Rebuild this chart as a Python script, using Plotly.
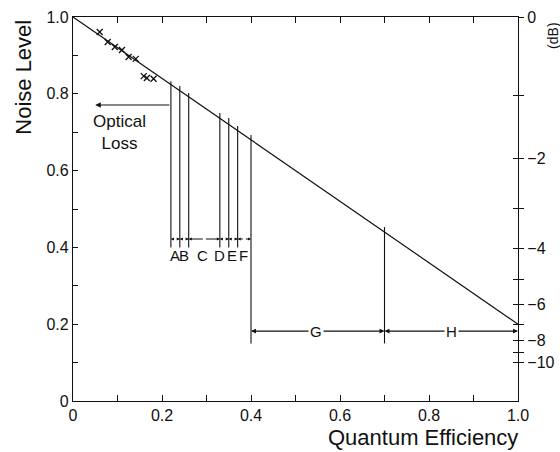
import plotly.graph_objects as go

# ---- data ----
line_eff = [0.0, 1.0]
line_noise = [1.0, 0.2]

cross_eff = [0.060, 0.078, 0.094, 0.110, 0.125, 0.141, 0.159, 0.166, 0.181]
cross_noise = [0.961, 0.935, 0.922, 0.914, 0.896, 0.891, 0.846, 0.841, 0.839]

bound_eff = [0.22, 0.24, 0.26, 0.33, 0.35, 0.37, 0.40, 0.70]
bound_top = [0.833, 0.820, 0.802, 0.750, 0.737, 0.716, 0.693, 0.453]
bound_bottom = [0.40, 0.40, 0.40, 0.40, 0.40, 0.40, 0.15, 0.15]

seg_labels = ["A", "B", "C", "D", "E", "F", "G", "H"]
seg_start = [0.22, 0.24, 0.26, 0.33, 0.35, 0.37, 0.40, 0.70]
seg_end = [0.24, 0.26, 0.33, 0.35, 0.37, 0.40, 0.70, 1.00]
seg_level = [0.422, 0.422, 0.422, 0.422, 0.422, 0.422, 0.182, 0.182]
label_x = [0.229, 0.250, 0.290, 0.329, 0.357, 0.383, 0.545, 0.85]
label_level = [0.378, 0.378, 0.378, 0.378, 0.378, 0.378, 0.182, 0.182]

optical_from = 0.22
optical_to = 0.05
optical_level = 0.771

x_ticks = [0, 0.1, 0.2, 0.3, 0.4, 0.5, 0.6, 0.7, 0.8, 0.9, 1.0]
x_ticktext = ["0", "", "0.2", "", "0.4", "", "0.6", "", "0.8", "", "1.0"]
y_ticks = [0, 0.1, 0.2, 0.3, 0.4, 0.5, 0.6, 0.7, 0.8, 0.9, 1.0]
y_ticktext = ["0", "", "0.2", "", "0.4", "", "0.6", "", "0.8", "", "1.0"]
db_values = [0, -1, -2, -3, -4, -5, -6, -7, -8, -9, -10]
db_labels = ["0", "", "\u22122", "", "\u22124", "", "\u22126", "", "\u22128", "", "\u221210"]

FONT = "Liberation Sans, Arial, Helvetica, sans-serif"
BLACK = "#111111"

fig = go.Figure()

# main line
fig.add_trace(go.Scatter(x=line_eff, y=line_noise, mode="lines",
                         line=dict(color=BLACK, width=1.2), hoverinfo="skip"))
# crosses
fig.add_trace(go.Scatter(x=cross_eff, y=cross_noise, mode="markers",
                         marker=dict(symbol="x-thin", size=6,
                                     line=dict(color=BLACK, width=1.3)),
                         hoverinfo="skip"))
# vertical boundary lines
vx, vy = [], []
for b, t, btm in zip(bound_eff, bound_top, bound_bottom):
    vx += [b, b, None]
    vy += [btm, t, None]
fig.add_trace(go.Scatter(x=vx, y=vy, mode="lines",
                         line=dict(color=BLACK, width=1.1), hoverinfo="skip"))

# invisible traces so secondary axes render
fig.add_trace(go.Scatter(x=[0], y=[0], yaxis="y2", mode="markers",
                         marker=dict(opacity=0), hoverinfo="skip"))
fig.add_trace(go.Scatter(x=[0], y=[0], yaxis="y3", mode="markers",
                         marker=dict(opacity=0), hoverinfo="skip"))

annotations = []
# dimension arrows
for lab, s, e, lv, lx, ll in zip(seg_labels, seg_start, seg_end, seg_level,
                                 label_x, label_level):
    mid = (s + e) / 2
    small = lab not in ("G", "H")
    for head in (s, e):
        annotations.append(dict(
            x=head, y=lv, ax=mid, ay=lv, xref="x", yref="y", axref="x", ayref="y",
            text="", showarrow=True, arrowhead=2,
            arrowsize=0.55 if small else 0.9, arrowwidth=1.1, arrowcolor=BLACK,
            standoff=0, startstandoff=0))
    annotations.append(dict(
        x=lx, y=ll, xref="x", yref="y", text=lab, showarrow=False,
        font=dict(family=FONT, size=15, color=BLACK),
        bgcolor="white" if not small else "rgba(0,0,0,0)",
        borderpad=1))

# optical loss arrow
annotations.append(dict(
    x=optical_to, y=optical_level, ax=optical_from, ay=optical_level,
    xref="x", yref="y", axref="x", ayref="y", text="", showarrow=True,
    arrowhead=2, arrowsize=1.0, arrowwidth=1.1, arrowcolor=BLACK, standoff=0))
annotations.append(dict(
    x=0.105, y=0.70, xref="x", yref="y", text="Optical<br>Loss", showarrow=False,
    font=dict(family=FONT, size=17, color=BLACK), align="center"))

# axis titles
annotations.append(dict(
    x=-0.110, y=0.842, xref="paper", yref="paper", text="Noise Level",
    xanchor="center", yanchor="middle",
    textangle=-90, showarrow=False, font=dict(family=FONT, size=22, color=BLACK)))
annotations.append(dict(
    x=1.005, y=-0.095, xref="paper", yref="paper", text="Quantum Efficiency",
    xanchor="right", yanchor="middle", showarrow=False,
    font=dict(family=FONT, size=22, color=BLACK)))
annotations.append(dict(
    x=1.078, y=0.95, xref="paper", yref="paper", text="(dB)",
    xanchor="center", yanchor="middle",
    textangle=-90, showarrow=False, font=dict(family=FONT, size=14, color=BLACK)))

db_ticks = [10 ** (d / 10) for d in db_values]

fig.update_layout(
    width=560, height=452,
    margin=dict(l=73, r=42, t=17, b=51),
    paper_bgcolor="white", plot_bgcolor="white",
    showlegend=False,
    font=dict(family=FONT, color=BLACK),
    annotations=annotations,
    xaxis=dict(range=[0, 1], tickmode="array", tickvals=x_ticks, ticktext=x_ticktext,
               ticks="inside", ticklen=6, tickwidth=1.1, tickcolor=BLACK,
               showline=True, linecolor=BLACK, linewidth=1.3, mirror="ticks",
               showgrid=False, zeroline=False, automargin=False,
               tickfont=dict(size=16, family=FONT)),
    yaxis=dict(range=[0, 1], tickmode="array", tickvals=y_ticks, ticktext=y_ticktext,
               ticks="inside", ticklen=5, tickwidth=1.1, tickcolor=BLACK,
               showline=True, linecolor=BLACK, linewidth=1.3, mirror=True,
               showgrid=False, zeroline=False, automargin=False,
               tickfont=dict(size=16, family=FONT)),
    yaxis2=dict(range=[0, 1], overlaying="y", side="right", tickmode="array",
                tickvals=db_ticks, ticktext=db_labels, ticks="outside", ticklen=5,
                tickwidth=1.1, tickcolor=BLACK, showline=True, linecolor=BLACK,
                linewidth=1.3, showgrid=False, zeroline=False, automargin=False,
                ticklabelstandoff=0,
                tickfont=dict(size=16, family=FONT)),
    yaxis3=dict(range=[0, 1], overlaying="y", side="right", tickmode="array",
                tickvals=db_ticks, showticklabels=False, ticks="inside", ticklen=5,
                tickwidth=1.1, tickcolor=BLACK, showline=False, showgrid=False,
                zeroline=False, automargin=False),
)

fig.write_html("out.html", config={"displayModeBar": False},
               post_script="document.body.style.margin='0';document.body.style.padding='0';")
